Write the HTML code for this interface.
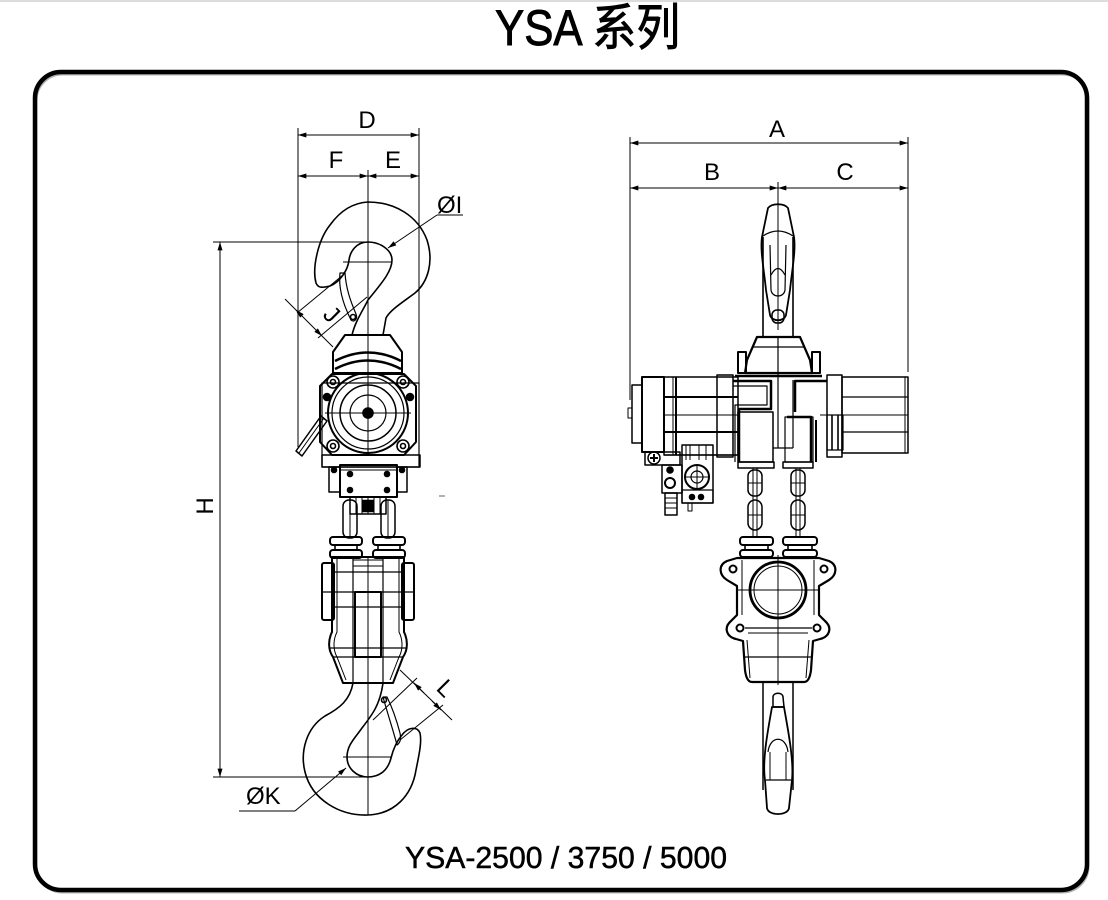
<!DOCTYPE html>
<html><head><meta charset="utf-8">
<style>
html,body{margin:0;padding:0;background:#fff;}
svg{display:block;}
text{font-family:"Liberation Sans","Noto Sans CJK SC",sans-serif;fill:#000;}
</style></head>
<body>
<svg width="1108" height="900" viewBox="0 0 1108 900" xmlns="http://www.w3.org/2000/svg">
<defs>
<marker id="ar" viewBox="0 0 10 6" refX="10" refY="3" markerWidth="10" markerHeight="5" markerUnits="userSpaceOnUse" orient="auto-start-reverse"><path d="M0,0 L10,3 L0,6 z" fill="#000"/></marker>
</defs>
<rect x="0" y="0" width="1108" height="2" fill="#dcdcdc"/>

<!-- Title -->
<text x="495" y="45" font-size="50" textLength="185" lengthAdjust="spacingAndGlyphs" stroke="#000" stroke-width="0.9">YSA 系列</text>

<!-- Border -->
<rect x="36.5" y="74.5" width="1052" height="818" rx="26" fill="none" stroke="#b0b0b0" stroke-width="2"/>
<rect x="35" y="72" width="1052" height="818" rx="26" fill="none" stroke="#000" stroke-width="4.5"/>

<!-- Bottom caption -->
<text x="405" y="868" font-size="31" textLength="322" lengthAdjust="spacingAndGlyphs" stroke="#000" stroke-width="0.5">YSA-2500 / 3750 / 5000</text>

<!-- ================= LEFT (side view) ================= -->
<g stroke="#000" fill="none" stroke-width="1">
  <line x1="298" y1="135" x2="419" y2="135" marker-start="url(#ar)" marker-end="url(#ar)"/>
  <line x1="298" y1="176" x2="368" y2="176" marker-start="url(#ar)" marker-end="url(#ar)"/>
  <line x1="368" y1="176" x2="419" y2="176" marker-start="url(#ar)" marker-end="url(#ar)"/>
  <line x1="298" y1="128" x2="298" y2="447"/>
  <line x1="419" y1="128" x2="419" y2="467"/>
  <line x1="368" y1="170" x2="368" y2="372"/>
  <line x1="213" y1="242" x2="368" y2="242"/>
  <line x1="213" y1="777" x2="368" y2="777"/>
  <line x1="220" y1="242" x2="220" y2="777" marker-start="url(#ar)" marker-end="url(#ar)"/>
  <line x1="463" y1="215" x2="437" y2="215"/>
  <line x1="437" y1="215" x2="388" y2="248" marker-end="url(#ar)"/>
  <line x1="297" y1="313" x2="343" y2="275"/>
  <line x1="318" y1="338" x2="367" y2="297"/>
  <line x1="285" y1="299" x2="333" y2="347"/>
  <line x1="301" y1="315" x2="296" y2="310" marker-end="url(#ar)"/>
  <line x1="316" y1="330" x2="322" y2="336" marker-end="url(#ar)"/>
  <line x1="343" y1="262" x2="392" y2="262"/>
  <line x1="343" y1="757" x2="392" y2="757"/>
  <line x1="368" y1="683" x2="368" y2="815"/>
  <line x1="239" y1="811" x2="295" y2="811"/>
  <line x1="295" y1="811" x2="346" y2="768" marker-end="url(#ar)"/>
  <line x1="373" y1="720" x2="417" y2="678"/>
  <line x1="400" y1="740" x2="443" y2="705"/>
  <line x1="400" y1="670" x2="452" y2="720"/>
  <line x1="424" y1="693" x2="414" y2="683" marker-end="url(#ar)"/>
  <line x1="432" y1="701" x2="441" y2="710" marker-end="url(#ar)"/>
</g>
<text x="367" y="128" font-size="24" text-anchor="middle">D</text>
<text x="336" y="168" font-size="24" text-anchor="middle">F</text>
<text x="393" y="168" font-size="24" text-anchor="middle">E</text>
<text x="437" y="213" font-size="24">ØI</text>
<text x="246" y="804" font-size="24">ØK</text>
<text x="0" y="0" font-size="24" text-anchor="middle" transform="translate(213,506) rotate(-90)">H</text>
<text x="0" y="0" font-size="24" text-anchor="middle" transform="translate(326,320) rotate(45)">J</text>
<text x="0" y="0" font-size="24" text-anchor="middle" transform="translate(440,694) rotate(45)">L</text>

<g stroke="#000" fill="none" stroke-width="1.6" stroke-linejoin="round">
  <!-- top hook -->
  <path d="M316,283 C312,268 318,240 330,225 C341,210 353,203 368,202 C395,202 418,216 427,240 C434,262 428,282 415,293 C403,302 390,310 386,318 L383,335 L352,335 C355,322 362,312 368,300 C380,285 392,272 392,260 C392,250 380,242 368,242 C356,242 350,252 349,260 C348,270 340,282 330,286 C322,288 318,288 316,283 Z"/>
  <path d="M340,273 C338,290 345,308 351,320 C354,323 358,319 356,314 C350,300 346,288 345,273 Z" stroke-width="1.2"/>
  <circle cx="353" cy="317" r="2.5"/>

  <path d="M345,335 L390,335 L402,352 L402,373 L333,373 L333,352 Z" stroke-width="2"/>
  <path d="M335,361 Q368,344 401,361" stroke-width="2.5"/>
  <path d="M335,369 Q368,352 401,369" stroke-width="2.5"/>

  <rect x="322" y="383" width="97" height="84" stroke-width="1.2"/>
  <path d="M332,374 L404,374 L416,386 L416,442 L404,455 L332,455 L320,442 L320,386 Z" stroke-width="2"/>
  <circle cx="368" cy="413" r="40" stroke-width="2"/>
  <circle cx="368" cy="413" r="36" stroke-width="1.2"/>
  <circle cx="368" cy="413" r="28" stroke-width="1.5"/>
  <circle cx="368" cy="413" r="18" stroke-width="1.2"/>
  <circle cx="368" cy="413" r="5" fill="#000"/>
  <line x1="325" y1="413" x2="411" y2="413" stroke-width="1"/>
  <line x1="368" y1="372" x2="368" y2="455" stroke-width="1"/>
  <circle cx="333" cy="382" r="6"/><circle cx="333" cy="382" r="2.5"/>
  <circle cx="403" cy="382" r="6"/><circle cx="403" cy="382" r="2.5"/>
  <circle cx="333" cy="446" r="6"/><circle cx="333" cy="446" r="2.5"/>
  <circle cx="403" cy="446" r="6"/><circle cx="403" cy="446" r="2.5"/>
  <circle cx="327" cy="397" r="3.5" fill="#000"/>
  <circle cx="410" cy="397" r="3.5" fill="#000"/>
  <path d="M296,451 L302,456 L327,421 L321,416 Z" stroke-width="1.5"/>
  <line x1="299" y1="453" x2="324" y2="418" stroke-width="1"/>
  <rect x="322" y="455" width="98" height="12" stroke-width="1.5"/>
  <rect x="340" y="465" width="57" height="32" stroke-width="2"/>
  <line x1="340" y1="470" x2="397" y2="470" stroke-width="1"/>
  <rect x="329" y="467" width="11" height="25" stroke-width="1.5"/>
  <rect x="397" y="467" width="10" height="25" stroke-width="1.5"/>
  <circle cx="350" cy="474" r="2.5" fill="#000"/><circle cx="387" cy="474" r="2.5" fill="#000"/>
  <circle cx="350" cy="490" r="2.5" fill="#000"/><circle cx="387" cy="490" r="2.5" fill="#000"/>
  <circle cx="334" cy="470" r="2.5" fill="#000"/><circle cx="402" cy="470" r="2.5" fill="#000"/>
  <rect x="350" y="497" width="36" height="17" stroke-width="1.5"/>
  <path d="M356,497 V514 M362,497 V514 M368,497 V514 M374,497 V514 M380,497 V514" stroke-width="1"/>
  <rect x="362" y="500" width="12" height="12" fill="#000" stroke-width="0.5"/>
  <rect x="343" y="500" width="14" height="38" rx="6" stroke-width="1.5"/>
  <line x1="350" y1="500" x2="350" y2="538" stroke-width="1"/>
  <rect x="381" y="500" width="14" height="38" rx="6" stroke-width="1.5"/>
  <line x1="388" y1="500" x2="388" y2="538" stroke-width="1"/>
  <rect x="330" y="537" width="32" height="8" rx="3" stroke-width="2"/>
  <rect x="330" y="550" width="32" height="8" rx="3" stroke-width="2"/>
  <line x1="335" y1="545" x2="335" y2="550"/><line x1="357" y1="545" x2="357" y2="550"/>
  <rect x="373" y="537" width="32" height="8" rx="3" stroke-width="2"/>
  <rect x="373" y="550" width="32" height="8" rx="3" stroke-width="2"/>
  <line x1="378" y1="545" x2="378" y2="550"/><line x1="400" y1="545" x2="400" y2="550"/>

  <rect x="322" y="563" width="12" height="57" rx="2" stroke-width="2"/>
  <rect x="402" y="563" width="12" height="57" rx="2" stroke-width="2"/>
  <path d="M332,557 L404,557 L404,632 C408,640 408,650 403,657 L393,683 L343,683 L333,657 C328,650 328,640 332,632 Z" stroke-width="2"/>
  <path d="M337,558 L337,632 C333,640 333,650 337,657 L346,680 M399,558 L399,632 C403,640 403,650 399,657 L390,680" stroke-width="1"/>
  <line x1="353" y1="558" x2="353" y2="683" stroke-width="1.2"/>
  <line x1="383" y1="558" x2="383" y2="683" stroke-width="1.2"/>
  <line x1="368" y1="558" x2="368" y2="683" stroke-width="1"/>
  <line x1="332" y1="572" x2="404" y2="572" stroke-width="1.2"/>
  <line x1="322" y1="592" x2="414" y2="592" stroke-width="1.2"/>
  <line x1="332" y1="607" x2="404" y2="607" stroke-width="1.2"/>
  <line x1="330" y1="648" x2="406" y2="648" stroke-width="1.2"/>
  <line x1="333" y1="657" x2="403" y2="657" stroke-width="1.2"/>
  <rect x="355" y="592" width="26" height="65" stroke-width="2"/>
  <rect x="353" y="560" width="30" height="6" stroke-width="1"/>

  <path d="M353,683 C350,700 340,708 325,716 C306,728 300,752 305,772 C312,800 340,816 368,815 C395,814 412,795 416,770 C419,755 422,742 420,733 C417,726 408,727 402,735 C396,742 393,750 391,758 C388,770 380,777 368,777 C356,777 347,768 347,757 C347,745 355,738 362,728 C372,715 380,705 383,683 Z"/>
  <path d="M383,697 C388,715 394,733 397,745 C401,742 401,738 400,733 C396,718 391,705 387,697 Z" stroke-width="1.2"/>
  <circle cx="384" cy="700" r="2.5"/>
</g>
<line x1="439" y1="496" x2="445" y2="496" stroke="#999" stroke-width="1.5"/>

<!-- ================= RIGHT (front view) ================= -->
<g stroke="#000" fill="none" stroke-width="1">
  <line x1="630" y1="143" x2="908" y2="143" marker-start="url(#ar)" marker-end="url(#ar)"/>
  <line x1="630" y1="188" x2="778" y2="188" marker-start="url(#ar)" marker-end="url(#ar)"/>
  <line x1="778" y1="188" x2="908" y2="188" marker-start="url(#ar)" marker-end="url(#ar)"/>
  <line x1="630" y1="137" x2="630" y2="400"/>
  <line x1="908" y1="137" x2="908" y2="372"/>
  <line x1="778" y1="182" x2="778" y2="330"/>
</g>
<text x="777" y="137" font-size="24" text-anchor="middle">A</text>
<text x="712" y="180" font-size="24" text-anchor="middle">B</text>
<text x="845" y="180" font-size="24" text-anchor="middle">C</text>

<g stroke="#000" fill="none" stroke-width="1.6" stroke-linejoin="round">
  <line x1="763" y1="237" x2="763" y2="337"/>
  <line x1="793" y1="237" x2="793" y2="337"/>
  <path d="M768,208 C772,203 784,203 788,208 L794,237 C796,250 792,270 790,290 L786,315 C784,322 772,322 770,315 L766,290 C764,270 760,250 762,237 Z" stroke-width="1.8"/>
  <path d="M763,236 Q778,226 793,236" stroke-width="1.2"/>
  <path d="M770,245 L771,290 C772,298 784,298 785,290 L786,245" stroke-width="1.2"/>
  <path d="M771,275 Q778,262 785,275" stroke-width="1.2"/>
  <rect x="772" y="310" width="12" height="13" rx="5" stroke-width="1.5"/>

  <path d="M757,337 L800,337 L810,360 L812,373 L745,373 L747,360 Z" stroke-width="2.2"/>
  <line x1="752" y1="347" x2="804" y2="347" stroke-width="1.2"/>
  <line x1="778" y1="337" x2="778" y2="448" stroke-width="1.2"/>
  <rect x="738" y="352" width="8" height="21" stroke-width="2"/>
  <rect x="812" y="352" width="8" height="21" stroke-width="2"/>
  <line x1="735" y1="376" x2="822" y2="376" stroke-width="2.5"/>

  <rect x="632" y="385" width="10" height="58" stroke-width="1.5"/>
  <rect x="628" y="408" width="4" height="10" stroke-width="1"/>
  <rect x="642" y="377" width="22" height="75" stroke-width="2"/>
  <rect x="664" y="377" width="74" height="78" stroke-width="1.5"/>
  <line x1="664" y1="397" x2="738" y2="397" stroke-width="2"/>
  <line x1="664" y1="415" x2="738" y2="415" stroke-width="1"/>
  <line x1="664" y1="432" x2="738" y2="432" stroke-width="2"/>
  <line x1="673" y1="377" x2="673" y2="455" stroke-width="1"/>
  <line x1="676" y1="377" x2="676" y2="455" stroke-width="2"/>
  <rect x="717" y="375" width="16" height="82" stroke-width="1.5"/>

  <path d="M733,381 H771 V409 H739 V462" stroke-width="2.5"/>
  <path d="M733,386 H767 V405 H735 V462" stroke-width="1.2"/>
  <rect x="738" y="412" width="35" height="50" stroke-width="1.5"/>
  <rect x="738" y="462" width="36" height="6" stroke-width="1.5"/>
  <line x1="793" y1="380" x2="793" y2="448" stroke-width="1.2"/>
  <path d="M773,448 H793" stroke-width="1.2"/>
  <path d="M827,381 H795 V412" stroke-width="2.5"/>
  <path d="M787,417 H811 V462" stroke-width="2.5"/>
  <rect x="785" y="417" width="28" height="45" stroke-width="1.2"/>
  <rect x="783" y="462" width="30" height="6" stroke-width="1.5"/>
  <line x1="816" y1="420" x2="816" y2="462" stroke-width="2"/>

  <rect x="827" y="375" width="15" height="82" stroke-width="1.5"/>
  <rect x="842" y="377" width="66" height="76" stroke-width="1.5"/>
  <line x1="842" y1="397" x2="908" y2="397" stroke-width="1.2"/>
  <line x1="820" y1="415" x2="908" y2="415" stroke-width="1"/>
  <line x1="842" y1="432" x2="908" y2="432" stroke-width="1.2"/>
  <line x1="905" y1="377" x2="905" y2="453" stroke-width="1"/>
  <rect x="827" y="415" width="16" height="35" stroke-width="1.2"/>
  <line x1="832" y1="415" x2="832" y2="450"/><line x1="838" y1="415" x2="838" y2="450"/>
  <line x1="664" y1="455" x2="738" y2="455" stroke-width="1.2"/>

  <rect x="645" y="452" width="35" height="13" stroke-width="1.5"/>
  <circle cx="654" cy="458" r="6" stroke-width="1.5"/>
  <path d="M650,458 H658 M654,454 V462" stroke-width="2"/>
  <rect x="662" y="465" width="20" height="28" stroke-width="1.5"/>
  <circle cx="670" cy="483" r="5" stroke-width="2"/>
  <circle cx="670" cy="470" r="3" fill="#000"/>
  <rect x="665" y="493" width="12" height="22" stroke-width="1.5"/>
  <path d="M665,498 H677 M665,503 H677 M665,508 H677" stroke-width="1"/>
  <rect x="682" y="445" width="31" height="58" stroke-width="1.5"/>
  <path d="M686,445 V460 M690,445 V460 M699,445 V460 M706,445 V460" stroke-width="1"/>
  <circle cx="697" cy="477" r="12" stroke-width="2"/>
  <circle cx="697" cy="477" r="6" stroke-width="1.2"/>
  <path d="M685,477 H709 M697,465 V489" stroke-width="1"/>
  <rect x="682" y="490" width="31" height="13" stroke-width="1.2"/>
  <circle cx="692" cy="497" r="2.5" fill="#000"/><circle cx="701" cy="497" r="2.5" fill="#000"/>
  <rect x="688" y="503" width="4" height="8" stroke-width="1"/>

  <rect x="748" y="470" width="14" height="26" rx="6" stroke-width="1.5"/>
  <rect x="748" y="500" width="14" height="30" rx="7" stroke-width="1.5"/>
  <line x1="753" y1="468" x2="753" y2="538" stroke-width="1"/>
  <line x1="757" y1="468" x2="757" y2="538" stroke-width="1"/>
  <line x1="748" y1="483" x2="762" y2="483" stroke-width="1"/>
  <line x1="748" y1="515" x2="762" y2="515" stroke-width="1"/>
  <rect x="791" y="470" width="14" height="26" rx="6" stroke-width="1.5"/>
  <rect x="791" y="500" width="14" height="30" rx="7" stroke-width="1.5"/>
  <line x1="796" y1="468" x2="796" y2="538" stroke-width="1"/>
  <line x1="800" y1="468" x2="800" y2="538" stroke-width="1"/>
  <line x1="791" y1="483" x2="805" y2="483" stroke-width="1"/>
  <line x1="791" y1="515" x2="805" y2="515" stroke-width="1"/>

  <rect x="740" y="537" width="33" height="8" rx="3" stroke-width="2"/>
  <rect x="740" y="550" width="33" height="7" rx="3" stroke-width="2"/>
  <line x1="745" y1="545" x2="745" y2="550"/><line x1="768" y1="545" x2="768" y2="550"/>
  <rect x="783" y="537" width="34" height="8" rx="3" stroke-width="2"/>
  <rect x="783" y="550" width="34" height="7" rx="3" stroke-width="2"/>
  <line x1="788" y1="545" x2="788" y2="550"/><line x1="812" y1="545" x2="812" y2="550"/>

  <path d="M737,558 L727,561 C718,565 719,575 727,580 L737,586 L737,615 L731,621 C723,628 727,637 736,639 L743,641 L745,670 C746,678 748,682 752,682 L804,682 C808,682 810,678 811,670 L813,641 L820,639 C829,637 833,628 825,621 L819,615 L819,586 L829,580 C837,575 838,565 829,561 L819,558 Z" stroke-width="2.2"/>
  <path d="M742,560 L742,615 M814,560 L814,615 M747,640 L750,678 M809,640 L806,678" stroke-width="1"/>
  <circle cx="733" cy="569" r="3.5" stroke-width="2"/>
  <circle cx="740" cy="628" r="3.5" stroke-width="2"/>
  <circle cx="824" cy="569" r="3.5" stroke-width="2"/>
  <circle cx="817" cy="628" r="3.5" stroke-width="2"/>
  <circle cx="778" cy="590" r="28" stroke-width="2.8"/>
  <circle cx="778" cy="590" r="24" stroke-width="1"/>
  <line x1="736" y1="590" x2="820" y2="590" stroke-width="1"/>
  <line x1="778" y1="555" x2="778" y2="685" stroke-width="1"/>
  <line x1="745" y1="628" x2="812" y2="628" stroke-width="1.2"/>
  <line x1="745" y1="657" x2="811" y2="657" stroke-width="1.2"/>
  <line x1="748" y1="633" x2="808" y2="633" stroke-width="1"/>

  <line x1="763" y1="682" x2="763" y2="790" stroke-width="1.5"/>
  <line x1="793" y1="682" x2="793" y2="790" stroke-width="1.5"/>
  <path d="M773,707 L773,697 C773,692 783,692 783,697 L784,707 Z" stroke-width="1.5"/>
  <path d="M772,707 C768,730 762,760 765,780 L767,808 C768,816 788,816 789,808 L792,780 C794,760 788,730 784,707 Z" stroke-width="1.8"/>
  <path d="M768,752 C770,735 786,735 788,752" stroke-width="1.2"/>
  <line x1="766" y1="780" x2="791" y2="780" stroke-width="1.2"/>
  <line x1="770" y1="752" x2="770" y2="780" stroke-width="1"/>
  <line x1="786" y1="752" x2="786" y2="780" stroke-width="1"/>
</g>
</svg>
</body></html>
